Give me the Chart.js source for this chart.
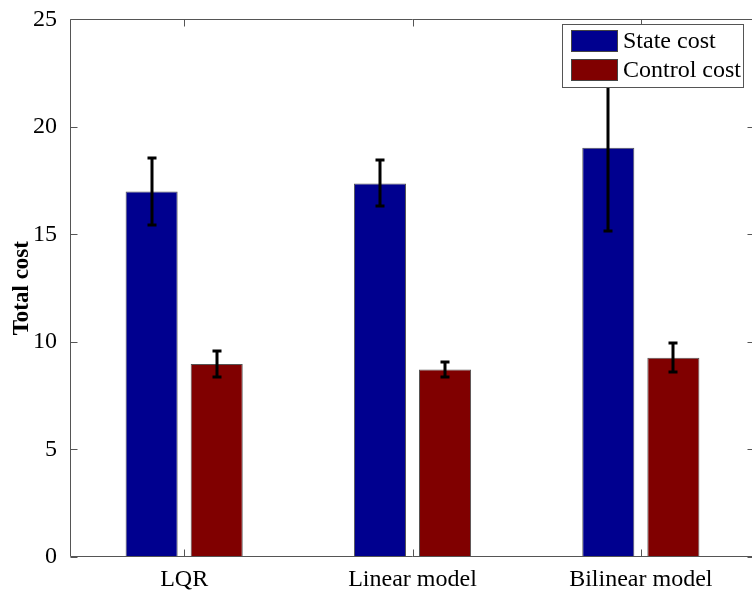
<!DOCTYPE html>
<html>
<head>
<meta charset="utf-8">
<script src="https://cdn.jsdelivr.net/npm/chart.js@4/dist/chart.umd.min.js"></script>
<style>
  html, body { margin: 0; padding: 0; background: #fff; overflow: hidden; }
  #wrap { width: 752px; height: 592px; overflow: hidden; }
  canvas { display: block; }
</style>
</head>
<body>
<div id="wrap"><canvas id="c" width="756" height="592"></canvas></div>
<script>
const categories = ['LQR', 'Linear model', 'Bilinear model'];
const seriesNames = ['State cost', 'Control cost'];
const stateCost = [17.0, 17.37, 19.03];
const stateErr = [1.57, 1.07, 3.87];
const controlCost = [8.98, 8.72, 9.27];
const controlErr = [0.6, 0.37, 0.69];
const yTicks = [0, 5, 10, 15, 20, 25];

const SERIF = '"Liberation Serif", "Times New Roman", serif';
const AXIS_COLOR = '#555';

const errorBars = {
  id: 'errorBars',
  afterDatasetsDraw(chart) {
    const ctx = chart.ctx;
    const y = chart.scales.y;
    const errs = [stateErr, controlErr];
    ctx.save();
    ctx.strokeStyle = '#000';
    ctx.lineWidth = 3;
    chart.data.datasets.forEach((ds, di) => {
      const meta = chart.getDatasetMeta(di);
      meta.data.forEach((bar, i) => {
        const v = ds.data[i], e = errs[di][i];
        const yt = Math.round(y.getPixelForValue(v + e));
        const yb = Math.round(y.getPixelForValue(v - e));
        const x = Math.round(bar.x);
        ctx.beginPath();
        ctx.moveTo(x, yt); ctx.lineTo(x, yb);
        ctx.moveTo(x - 4.5, yt); ctx.lineTo(x + 4.5, yt);
        ctx.moveTo(x - 4.5, yb); ctx.lineTo(x + 4.5, yb);
        ctx.stroke();
      });
    });
    ctx.restore();
  }
};

const frame = {
  id: 'frame',
  afterDatasetsDraw(chart) {
    const ctx = chart.ctx;
    const a = chart.chartArea;
    const L = Math.round(a.left) + 0.5, R = Math.round(a.right) - 0.5;
    const T = Math.round(a.top) + 0.5, B = Math.round(a.bottom) - 0.5;
    ctx.save();
    ctx.strokeStyle = AXIS_COLOR;
    ctx.lineWidth = 1;
    ctx.beginPath();
    ctx.rect(L, T, R - L, B - T);
    const ys = chart.scales.y, xs = chart.scales.x;
    yTicks.forEach(t => {
      const py = Math.round(ys.getPixelForValue(t)) + 0.5;
      ctx.moveTo(L, py); ctx.lineTo(L + 7, py);
      ctx.moveTo(R, py); ctx.lineTo(R - 7, py);
    });
    categories.forEach((c, i) => {
      const px = Math.round(xs.getPixelForValue(i)) + 0.5;
      ctx.moveTo(px, B); ctx.lineTo(px, B - 7);
      ctx.moveTo(px, T); ctx.lineTo(px, T + 7);
    });
    ctx.stroke();
    ctx.restore();
  }
};

const boxLegend = {
  id: 'boxLegend',
  afterDraw(chart) {
    const ctx = chart.ctx;
    const x0 = 562.5, y0 = 24.5, w = 181, h = 63;
    ctx.save();
    ctx.fillStyle = '#fff';
    ctx.fillRect(x0, y0, w, h);
    ctx.strokeStyle = AXIS_COLOR;
    ctx.lineWidth = 1;
    ctx.strokeRect(x0, y0, w, h);
    ctx.font = '24px ' + SERIF;
    ctx.textBaseline = 'middle';
    ctx.textAlign = 'left';
    chart.data.datasets.forEach((ds, i) => {
      const sy = 30 + i * 29;
      ctx.fillStyle = ds.backgroundColor;
      ctx.fillRect(571, sy, 47, 22);
      ctx.strokeStyle = '#444';
      ctx.strokeRect(571.5, sy + 0.5, 46, 21);
      ctx.fillStyle = '#000';
      ctx.fillText(ds.label, 623, sy + 12);
    });
    ctx.restore();
  }
};

new Chart(document.getElementById('c'), {
  type: 'bar',
  data: {
    labels: categories,
    datasets: [
      { label: seriesNames[0], data: stateCost, backgroundColor: '#00008F', borderColor: '#555', borderWidth: 1 },
      { label: seriesNames[1], data: controlCost, backgroundColor: '#800000', borderColor: '#555', borderWidth: 1 }
    ]
  },
  options: {
    responsive: false,
    animation: false,
    devicePixelRatio: 1,
    layout: { padding: { top: 17, right: 1, left: 0, bottom: 0 } },
    datasets: { bar: { categoryPercentage: 0.57, barPercentage: 0.8 } },
    plugins: { legend: { display: false }, tooltip: { enabled: false } },
    scales: {
      x: {
        grid: { display: false },
        border: { display: false },
        ticks: { color: '#000', font: { family: SERIF, size: 24 }, padding: 0, maxRotation: 0 },
        afterFit(s) { s.height = 35; }
      },
      y: {
        min: 0, max: 25,
        grid: { display: false },
        border: { display: false },
        afterBuildTicks(s) { s.ticks = yTicks.map(v => ({ value: v })); },
        ticks: { color: '#000', font: { family: SERIF, size: 24 }, padding: 5 },
        title: {
          display: true, text: 'Total cost', color: '#000',
          font: { family: SERIF, size: 23, weight: 'bold' },
          padding: { top: 8, bottom: 0 }
        },
        afterFit(s) { s.width = 70; }
      }
    }
  },
  plugins: [frame, errorBars, boxLegend]
});
</script>
</body>
</html>
